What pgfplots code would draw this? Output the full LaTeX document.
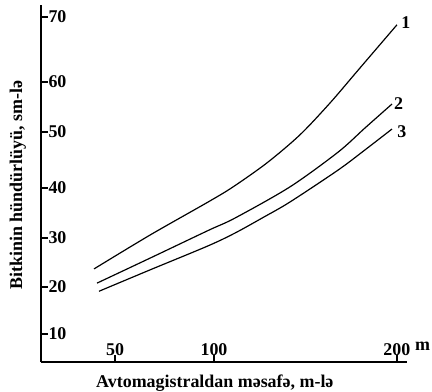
\documentclass[border=0pt]{standalone}
\usepackage{fontspec}
\setmainfont{Liberation Serif}
\usepackage{pgfplots}
\pgfplotsset{compat=1.18}
\begin{document}
\begin{tikzpicture}
\begin{axis}[
  scale only axis, width=366bp, height=357bp,
  axis x line=bottom, axis y line=left,
  axis line style={-, line width=1.2pt, black},
  x coord trafo/.code={\pgfmathparse{#1<=100 ? 115+(#1-50)*1.98 : 214+(#1-100)*1.83}},
  y coord trafo/.code={\pgfmathparse{#1<=20 ? 28+(#1-10)*4.7 : (#1<=30 ? 75+(#1-20)*4.9 : (#1<=40 ? 124+(#1-30)*5 : (#1<=50 ? 174+(#1-40)*5.6 : (#1<=60 ? 230+(#1-50)*5 : 280+(#1-60)*6.5))))}},
  xmin=12.6, xmax=205.5, ymin=4.05, ymax=71.85,
  xtick={50,100,200}, xticklabels={50,100,200},
  ytick={10,20,30,40,50,60,70}, yticklabels={10,20,30,40,50,60,70},
  tick align=inside,
  major tick length=7bp,
  tick style={line width=1.2pt, black},
  tick label style={font=\bfseries\fontsize{18}{21}\selectfont},
  yticklabel style={anchor=west, xshift=4bp},
  xticklabel style={anchor=south, yshift=3bp},
  clip=false,
  xlabel={Avtomagistraldan məsafə, m-lə},
  ylabel={Bitkinin hündürlüyü, sm-lə},
  label style={font=\bfseries\fontsize{18}{21}\selectfont},
  xlabel style={at={(axis description cs:0.475,-0.059)}, anchor=center},
  ylabel style={at={(axis description cs:-0.063,0.496)}, anchor=center},
]
\addplot[black, line width=1.2pt, smooth] table {
39.4 23.7
67.7 30.6
97.0 37.2
110.4 40.2
129.0 44.5
147.0 49.5
163.4 55.8
178.7 61.8
200.0 68.8
};
\addplot[black, line width=1.2pt, smooth] table {
40.9 20.8
67.7 25.9
97.0 31.5
111.5 34.0
141.5 40.2
167.8 46.4
182.5 50.8
197.3 55.6
};
\addplot[black, line width=1.2pt, smooth] table {
41.9 19.1
67.7 23.5
97.0 28.4
111.5 31.0
126.8 34.1
141.5 37.2
167.8 43.2
182.5 46.8
197.3 50.6
};
\node[font=\bfseries\fontsize{18}{21}\selectfont, inner sep=0pt] at (rel axis cs:0.997,0.952) {1};
\node[font=\bfseries\fontsize{18}{21}\selectfont, inner sep=0pt] at (rel axis cs:0.977,0.724) {2};
\node[font=\bfseries\fontsize{18}{21}\selectfont, inner sep=0pt] at (rel axis cs:0.986,0.646) {3};
\node[font=\bfseries\fontsize{18}{21}\selectfont, inner sep=0pt, anchor=base west] at ([xshift=8bp,yshift=12bp]rel axis cs:1,0) {m};
\end{axis}
\pgfresetboundingbox
\path (current axis.south west) ++(-41bp,-30bp) rectangle ++(432bp,392bp);
\end{tikzpicture}
\end{document}
